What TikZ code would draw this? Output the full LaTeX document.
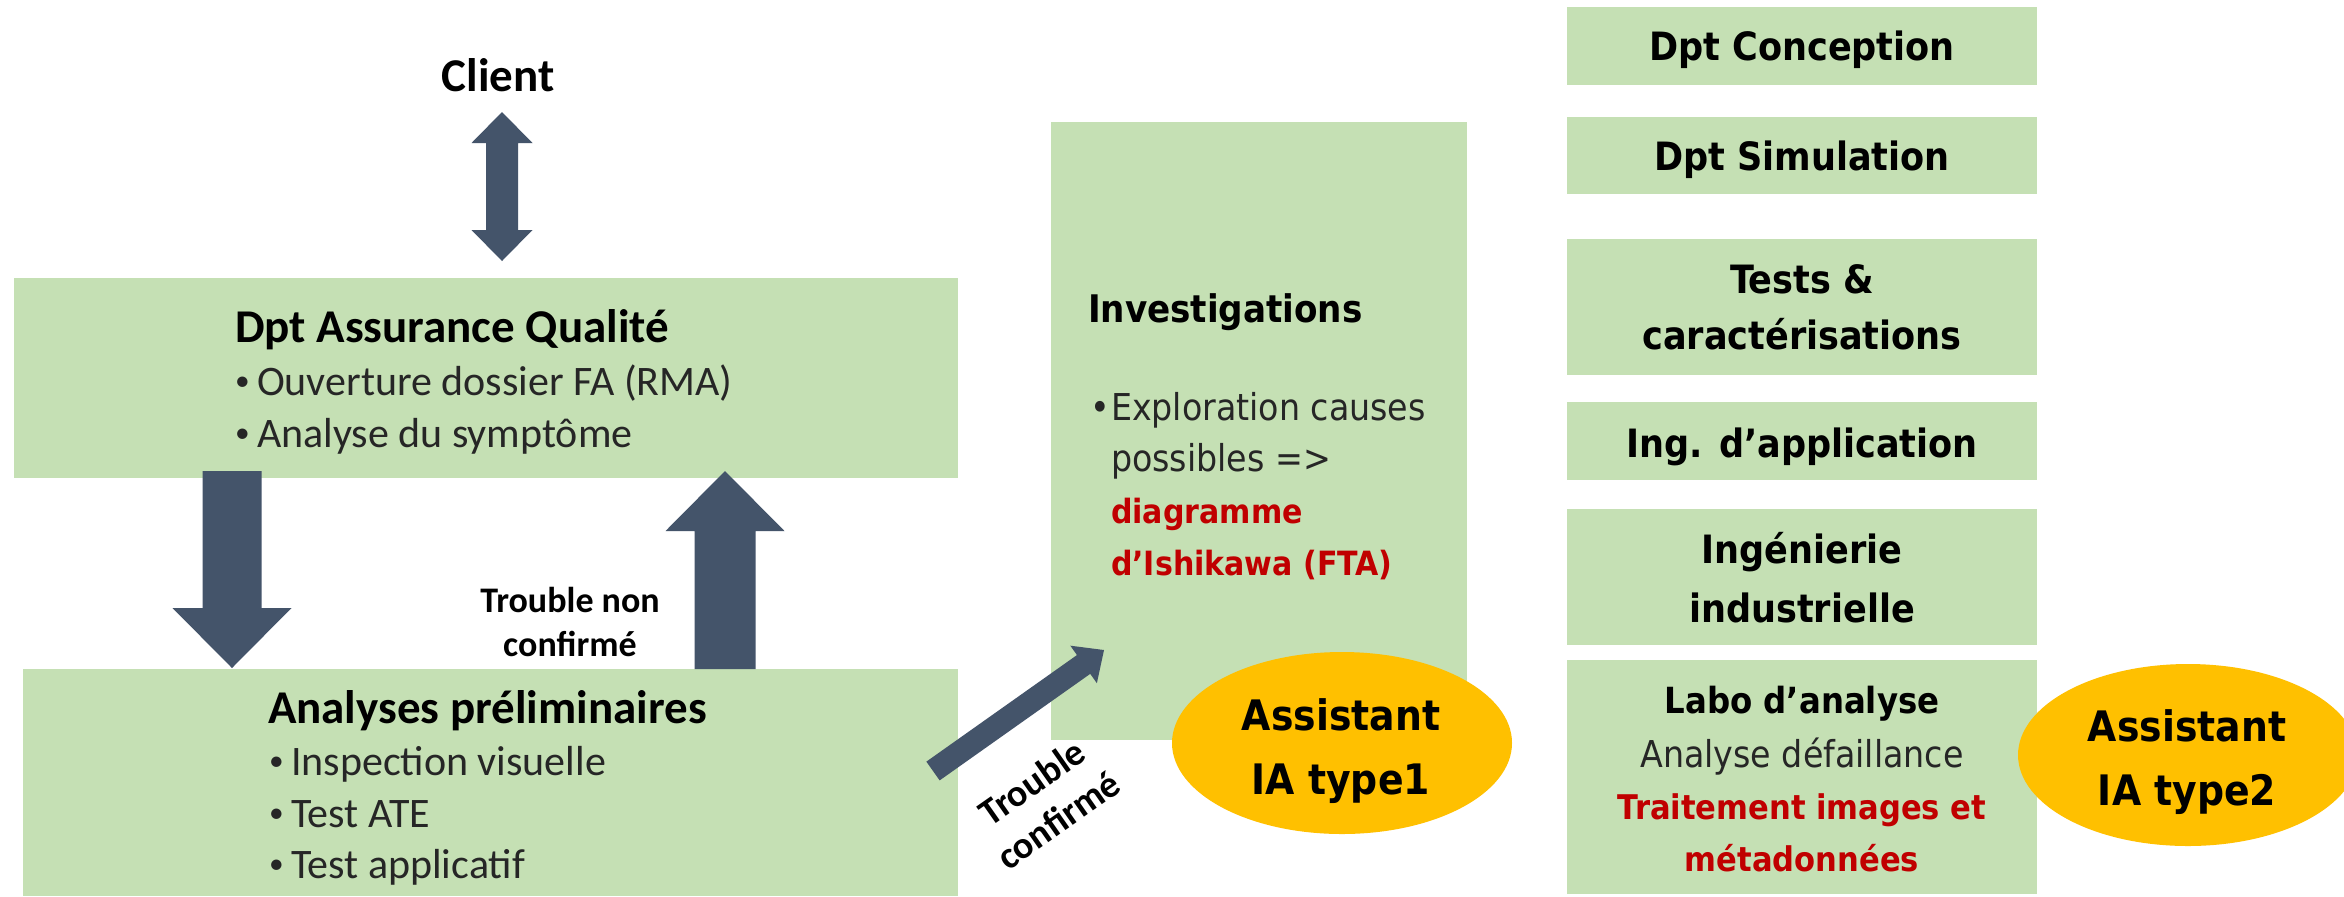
\documentclass[tikz,border=0pt]{standalone}
\usepackage{fontspec}
\setmainfont{Carlito}
\newfontfamily\tah{DejaVu Sans Condensed}
\usetikzlibrary{calc,shapes.geometric}
\definecolor{boxg}{HTML}{C5E0B4}
\definecolor{arr}{HTML}{44546A}
\definecolor{gold}{HTML}{FFC000}
\definecolor{redt}{HTML}{C00000}
\definecolor{txtg}{HTML}{262626}
\tikzset{
  box/.style={rectangle, fill=boxg, draw=none, inner sep=0pt, outer sep=0pt},
  oval/.style={ellipse, fill=gold, draw=none, minimum width=170pt, minimum height=91pt, inner sep=0pt},
  txt/.style={inner sep=0pt, outer sep=0pt, text=black},
  reg/.style={inner sep=0pt, outer sep=0pt, text=txtg},
  red/.style={inner sep=0pt, outer sep=0pt, text=redt},
}
\newcommand\fTitle{\bfseries\fontsize{23.5}{28}\selectfont}
\newcommand\fBul{\fontsize{21}{26}\selectfont}
\newcommand\fSmallB{\bfseries\fontsize{18}{22}\selectfont}
\newcommand\fRot{\bfseries\fontsize{19}{23}\selectfont}
\newcommand\fRB{\tah\bfseries\fontsize{19.5}{24}\selectfont}
\newcommand\fInvT{\tah\bfseries\fontsize{19}{24}\selectfont}
\newcommand\fInvR{\tah\fontsize{18.5}{24}\selectfont}
\newcommand\fInvB{\tah\bfseries\fontsize{16.7}{24}\selectfont}
\newcommand\fLaboT{\tah\bfseries\fontsize{18}{24}\selectfont}
\newcommand\fLaboR{\tah\fontsize{18.5}{24}\selectfont}
\newcommand\fLaboB{\tah\bfseries\fontsize{17}{24}\selectfont}
\newcommand\fOval{\tah\bfseries\fontsize{21}{26}\selectfont}
\newcommand\bul{\makebox[11pt][l]{\raisebox{2.3pt}{\scalebox{0.7}{•}}}}
% block arrow: from, to, half shaft, half head, head length
\newcommand\blockarrow[5]{%
  \path ($(#2)!#5!(#1)$) coordinate (ba-h);
  \fill[arr] ($(#1)!#3!90:(#2)$) -- ($(ba-h)!#3!-90:(#1)$) -- ($(ba-h)!#4!-90:(#1)$) -- (#2)
     -- ($(ba-h)!#4!90:(#1)$) -- ($(ba-h)!#3!90:(#1)$) -- ($(#1)!#3!-90:(#2)$) -- cycle;}
% double block arrow: end a, end b, half shaft, half head, head length
\newcommand\dblarrow[5]{%
  \path ($(#1)!#5!(#2)$) coordinate (da-a) ($(#2)!#5!(#1)$) coordinate (da-b);
  \fill[arr] (#1) -- ($(da-a)!#4!90:(#2)$) -- ($(da-a)!#3!90:(#2)$) -- ($(da-b)!#3!-90:(#1)$)
     -- ($(da-b)!#4!-90:(#1)$) -- (#2) -- ($(da-b)!#4!90:(#1)$) -- ($(da-b)!#3!90:(#1)$)
     -- ($(da-a)!#3!-90:(#2)$) -- ($(da-a)!#4!-90:(#2)$) -- cycle;}
\begin{document}
\begin{tikzpicture}[x=0.5pt,y=-0.5pt]
\useasboundingbox (0,0) rectangle (2344,896);
\fill[white] (0,0) rectangle (2344,896);

% ---- boxes
\node[box, minimum width=472pt, minimum height=100pt] (aq) at (486,378) {};
\node[box, minimum width=467.5pt, minimum height=113.5pt] (ap) at (490.5,782.5) {};
\node[box, minimum width=208pt, minimum height=309pt] (inv) at (1259,431) {};
\node[box, minimum width=235pt, minimum height=39pt] (conc) at (1802,46) {};
\node[box, minimum width=235pt, minimum height=38.5pt] (sim) at (1802,155.5) {};
\node[box, minimum width=235pt, minimum height=68pt] (tests) at (1802,307) {};
\node[box, minimum width=235pt, minimum height=39pt] (ingapp) at (1802,441) {};
\node[box, minimum width=235pt, minimum height=68pt] (ingind) at (1802,577) {};
\node[box, minimum width=235pt, minimum height=117pt] (labo) at (1802,777) {};

% ---- client
\node[txt, anchor=base, font=\fTitle] (client) at (498,91) {Client};

% ---- arrows
\coordinate (ctop) at (502,112);
\coordinate (cbot) at (502,261);
\dblarrow{ctop}{cbot}{8pt}{15.25pt}{15.5pt}

\coordinate (dtail) at (232,471);
\coordinate (dtip) at (232,668);
\blockarrow{dtail}{dtip}{14.75pt}{29.75pt}{30pt}

\coordinate (utail) at (725,669);
\coordinate (utip) at (725,471);
\blockarrow{utail}{utip}{15.25pt}{29.75pt}{30pt}

\coordinate (gtail) at (933,771);
\coordinate (gtip) at (1104,650);
\blockarrow{gtail}{gtip}{5.75pt}{11.5pt}{12.5pt}

% ---- AQ text
\node[txt, anchor=base west, font=\fTitle] (aqt) at (235,342) {Dpt Assurance Qualité};
\node[reg, anchor=base west, font=\fBul] (aq1) at (235,395) {\bul Ouverture dossier FA (RMA)};
\node[reg, anchor=base west, font=\fBul] (aq2) at (235,447) {\bul Analyse du symptôme};

% ---- AP text
\node[txt, anchor=base west, font=\fTitle] (apt) at (268,723) {Analyses préliminaires};
\node[reg, anchor=base west, font=\fBul] (ap1) at (269,775) {\bul Inspection visuelle};
\node[reg, anchor=base west, font=\fBul] (ap2) at (269,827) {\bul Test ATE};
\node[reg, anchor=base west, font=\fBul] (ap3) at (269,878) {\bul Test applicatif};

% ---- labels on arrows
\node[txt, anchor=base, font=\fSmallB] (tn1) at (570,612) {Trouble non};
\node[txt, anchor=base, font=\fSmallB] (tn2) at (570,656) {confirmé};
\node[txt, rotate=35, align=center, font=\fRot] (tc) at (1045,801) {Trouble\\confirmé};

% ---- Investigations text
\node[txt, anchor=base west, font=\fInvT] (invt) at (1088,322) {Investigations};
\node[reg, anchor=base west, font=\fInvR] (invb) at (1090,420) {•};
\node[reg, anchor=base west, font=\fInvR] (inv1) at (1111,420) {Exploration causes};
\node[reg, anchor=base west, font=\fInvR] (inv2) at (1111,471) {possibles =>};
\node[red, anchor=base west, font=\fInvB] (inv3) at (1111,523) {diagramme};
\node[red, anchor=base west, font=\fInvB] (inv4) at (1111,575) {d’Ishikawa (FTA)};

% ---- right column text
\node[txt, anchor=base, font=\fRB] (conct) at (1802,60) {Dpt Conception};
\node[txt, anchor=base, font=\fRB] (simt) at (1802,170) {Dpt Simulation};
\node[txt, anchor=base, font=\fRB] (tests1) at (1802,293) {Tests \&};
\node[txt, anchor=base, font=\fRB] (tests2) at (1802,349) {caractérisations};
\node[txt, anchor=base, font=\fRB] (ingappt) at (1802,457) {Ing. d’application};
\node[txt, anchor=base, font=\fRB] (ingind1) at (1802,563) {Ingénierie};
\node[txt, anchor=base, font=\fRB] (ingind2) at (1802,622) {industrielle};
\node[txt, anchor=base, font=\fLaboT] (labo1) at (1802,713) {Labo d’analyse};
\node[reg, anchor=base, font=\fLaboR] (labo2) at (1802,767) {Analyse défaillance};
\node[red, anchor=base, font=\fLaboB] (labo3) at (1802,819) {Traitement images et};
\node[red, anchor=base, font=\fLaboB] (labo4) at (1802,871) {métadonnées};

% ---- ovals
\node[oval] (ia1) at (1342,743) {};
\node[txt, anchor=base, font=\fOval] (ia1a) at (1341,730) {Assistant};
\node[txt, anchor=base, font=\fOval] (ia1b) at (1341,794) {IA type1};
\node[oval] (ia2) at (2188,755) {};
\node[txt, anchor=base, font=\fOval] (ia2a) at (2187,741) {Assistant};
\node[txt, anchor=base, font=\fOval] (ia2b) at (2187,805) {IA type2};
\end{tikzpicture}
\end{document}
